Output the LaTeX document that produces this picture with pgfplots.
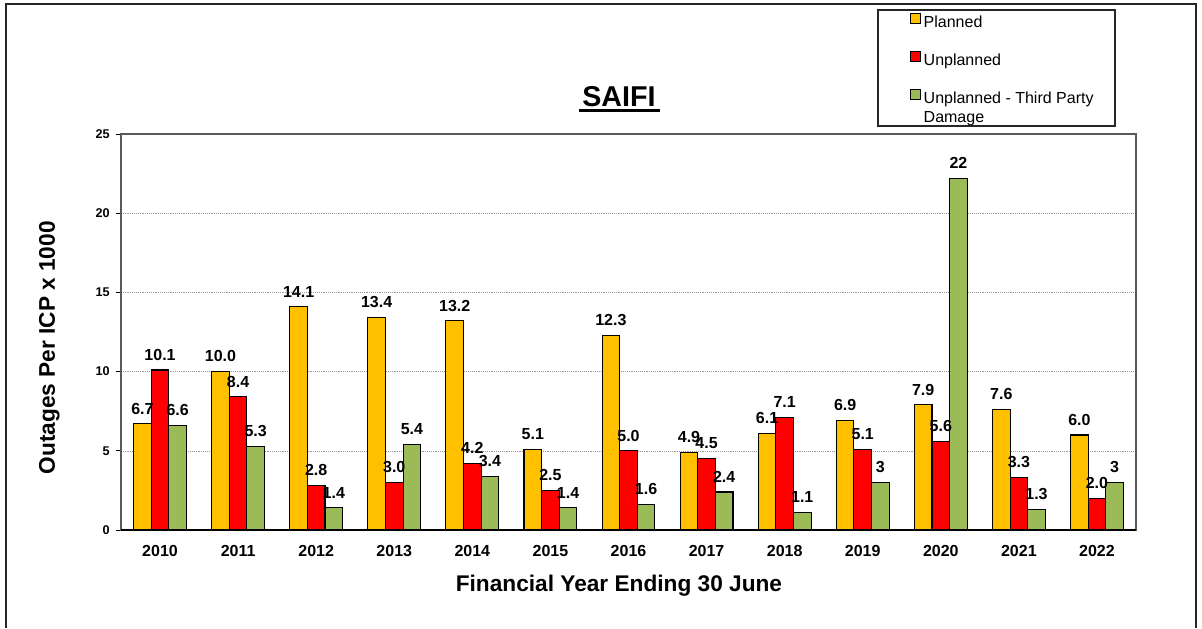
\documentclass[border=0pt]{standalone}
\usepackage{fontspec}
\setmainfont{Liberation Sans}
\usepackage{pgfplots}
\usepackage{pgfplotstable}
\pgfplotsset{compat=1.18}

\definecolor{planned}{HTML}{FFC000}
\definecolor{unplanned}{HTML}{FF0000}
\definecolor{thirdparty}{HTML}{9BBB59}

% SAIFI per financial year: value and printed label for each series
\pgfplotstableread{
x  P     PL    U     UL    T     TL
0  6.7   6.7   10.1  10.1  6.6   6.6
1  10.0  10.0  8.4   8.4   5.3   5.3
2  14.1  14.1  2.8   2.8   1.4   1.4
3  13.4  13.4  3.0   3.0   5.4   5.4
4  13.2  13.2  4.2   4.2   3.4   3.4
5  5.1   5.1   2.5   2.5   1.4   1.4
6  12.3  12.3  5.0   5.0   1.6   1.6
7  4.9   4.9   4.5   4.5   2.4   2.4
8  6.1   6.1   7.1   7.1   1.1   1.1
9  6.9   6.9   5.1   5.1   3.0   3
10 7.9   7.9   5.6   5.6   22.2  22
11 7.6   7.6   3.3   3.3   1.3   1.3
12 6.0   6.0   2.0   2.0   3.0   3
}\saifi

\begin{document}
\begin{tikzpicture}
\useasboundingbox (0,0) rectangle (901.5pt,-471pt);
% outer frame
\draw[line width=1.1pt, black!85] (4.5pt,-471pt) -- (4.5pt,-3pt) -- (897pt,-3pt) -- (897pt,-471pt);

\begin{axis}[
    at={(90.75pt,-397.5pt)}, anchor=south west,
    scale only axis, width=761.25pt, height=297pt,
    ybar=0pt, bar width=13.2pt,
    xmin=-0.5, xmax=12.5, ymin=0, ymax=25,
    xtick={0,...,12},
    xticklabels={2010,2011,2012,2013,2014,2015,2016,2017,2018,2019,2020,2021,2022},
    ytick={0,5,...,25}, ytick pos=left,
    ymajorgrids, grid style={densely dotted, gray!80},
    axis line style={draw=gray!70!black, line width=1pt},
    xtick style={draw=none},
    ytick style={draw=black, line width=0.6pt},
    tick align=outside, major tick length=4pt,
    /pgf/number format/assume math mode=true,
    xticklabel style={font=\fontsize{12}{14}\selectfont\bfseries, anchor=center, yshift=-12pt},
    yticklabel style={font=\fontsize{9.5}{11}\selectfont\bfseries, xshift=-1pt},
    xlabel={Financial Year Ending 30 June},
    ylabel={Outages Per ICP x 1000},
    xlabel style={font=\fontsize{17}{20}\selectfont\bfseries, at={(axis description cs:0.4906,-0.141)}, anchor=center},
    ylabel style={font=\fontsize{17}{20}\selectfont\bfseries, at={(axis description cs:-0.0705,0.46)}, anchor=center, rotate=0},
    every axis plot/.append style={draw=black, line width=0.8pt},
    nodes near coords,
    point meta=explicit symbolic,
    every node near coord/.append style={font=\fontsize{12}{14}\selectfont\bfseries, black, anchor=south, yshift=3.5pt},
    legend image code/.code={\draw[#1, draw=black, line width=0.6pt] (0pt,-0.5pt) rectangle (7.5pt,7pt);},
    legend cell align=left,
    legend style={at={(0.7773,1.306)}, anchor=north west, draw=none, fill=none,
        font=\fontsize{12}{14}\selectfont, row sep=15.2pt, column sep=1pt,
        inner sep=0pt, nodes={inner sep=1pt}},
]
\addplot[fill=planned] table[x=x, y=P, meta=PL] {\saifi};
\addlegendentry{Planned}
\addplot[fill=unplanned] table[x=x, y=U, meta=UL] {\saifi};
\addlegendentry{Unplanned}
\addplot[fill=thirdparty] table[x=x, y=T, meta=TL] {\saifi};
\addlegendentry{\parbox[t]{150pt}{Unplanned - Third Party\\Damage}}
\draw[black, line width=1.6pt] (rel axis cs:0,0) -- (rel axis cs:1,0);
\end{axis}

% legend frame
\draw[line width=1.1pt, black!85] (658.5pt,-7.5pt) rectangle (836.25pt,-94.5pt);
% title
\node[font=\fontsize{21.5}{24}\selectfont\bfseries, anchor=base] (t) at (464.25pt,-79.5pt) {SAIFI};
\draw[line width=2.2pt] ([yshift=-3.5pt]t.base west) ++(1pt,0) -- ([yshift=-3.5pt]t.base east);
\end{tikzpicture}
\end{document}
